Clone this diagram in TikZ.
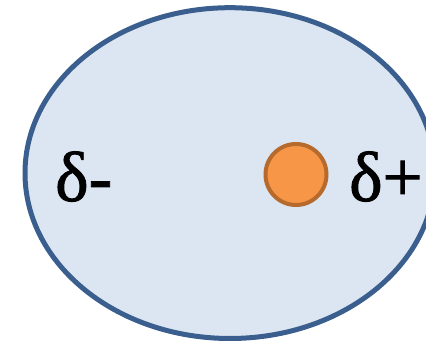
\documentclass[tikz,border=0pt]{standalone}
\usepackage{fontspec}
\setmainfont{Liberation Serif}
\newfontfamily\deltafont{Liberation Serif}[FakeBold=1.2]
\definecolor{cloudfill}{HTML}{DCE6F2}
\definecolor{cloudline}{HTML}{3A5F8F}
\definecolor{chargefill}{HTML}{F79646}
\definecolor{chargeline}{HTML}{B66A2E}
\tikzset{deltalabel/.style={anchor=base west,inner sep=0pt,font=\deltafont\fontsize{71}{84}\selectfont}}
\begin{document}
\begin{tikzpicture}[x=1pt,y=-1pt]
\useasboundingbox (0,0) rectangle (426,344);
\clip (0,0) rectangle (426,344);
\draw[cloudline,fill=cloudfill,line width=5pt] (230,173.1) ellipse (205 and 165.4);
\draw[chargeline,fill=chargefill,line width=4pt] (296,174.5) circle (30.5);
\node[deltalabel] (neg) at (55,201) {δ-};
\node[deltalabel] (pos) at (349,201) {δ+};
\end{tikzpicture}
\end{document}
